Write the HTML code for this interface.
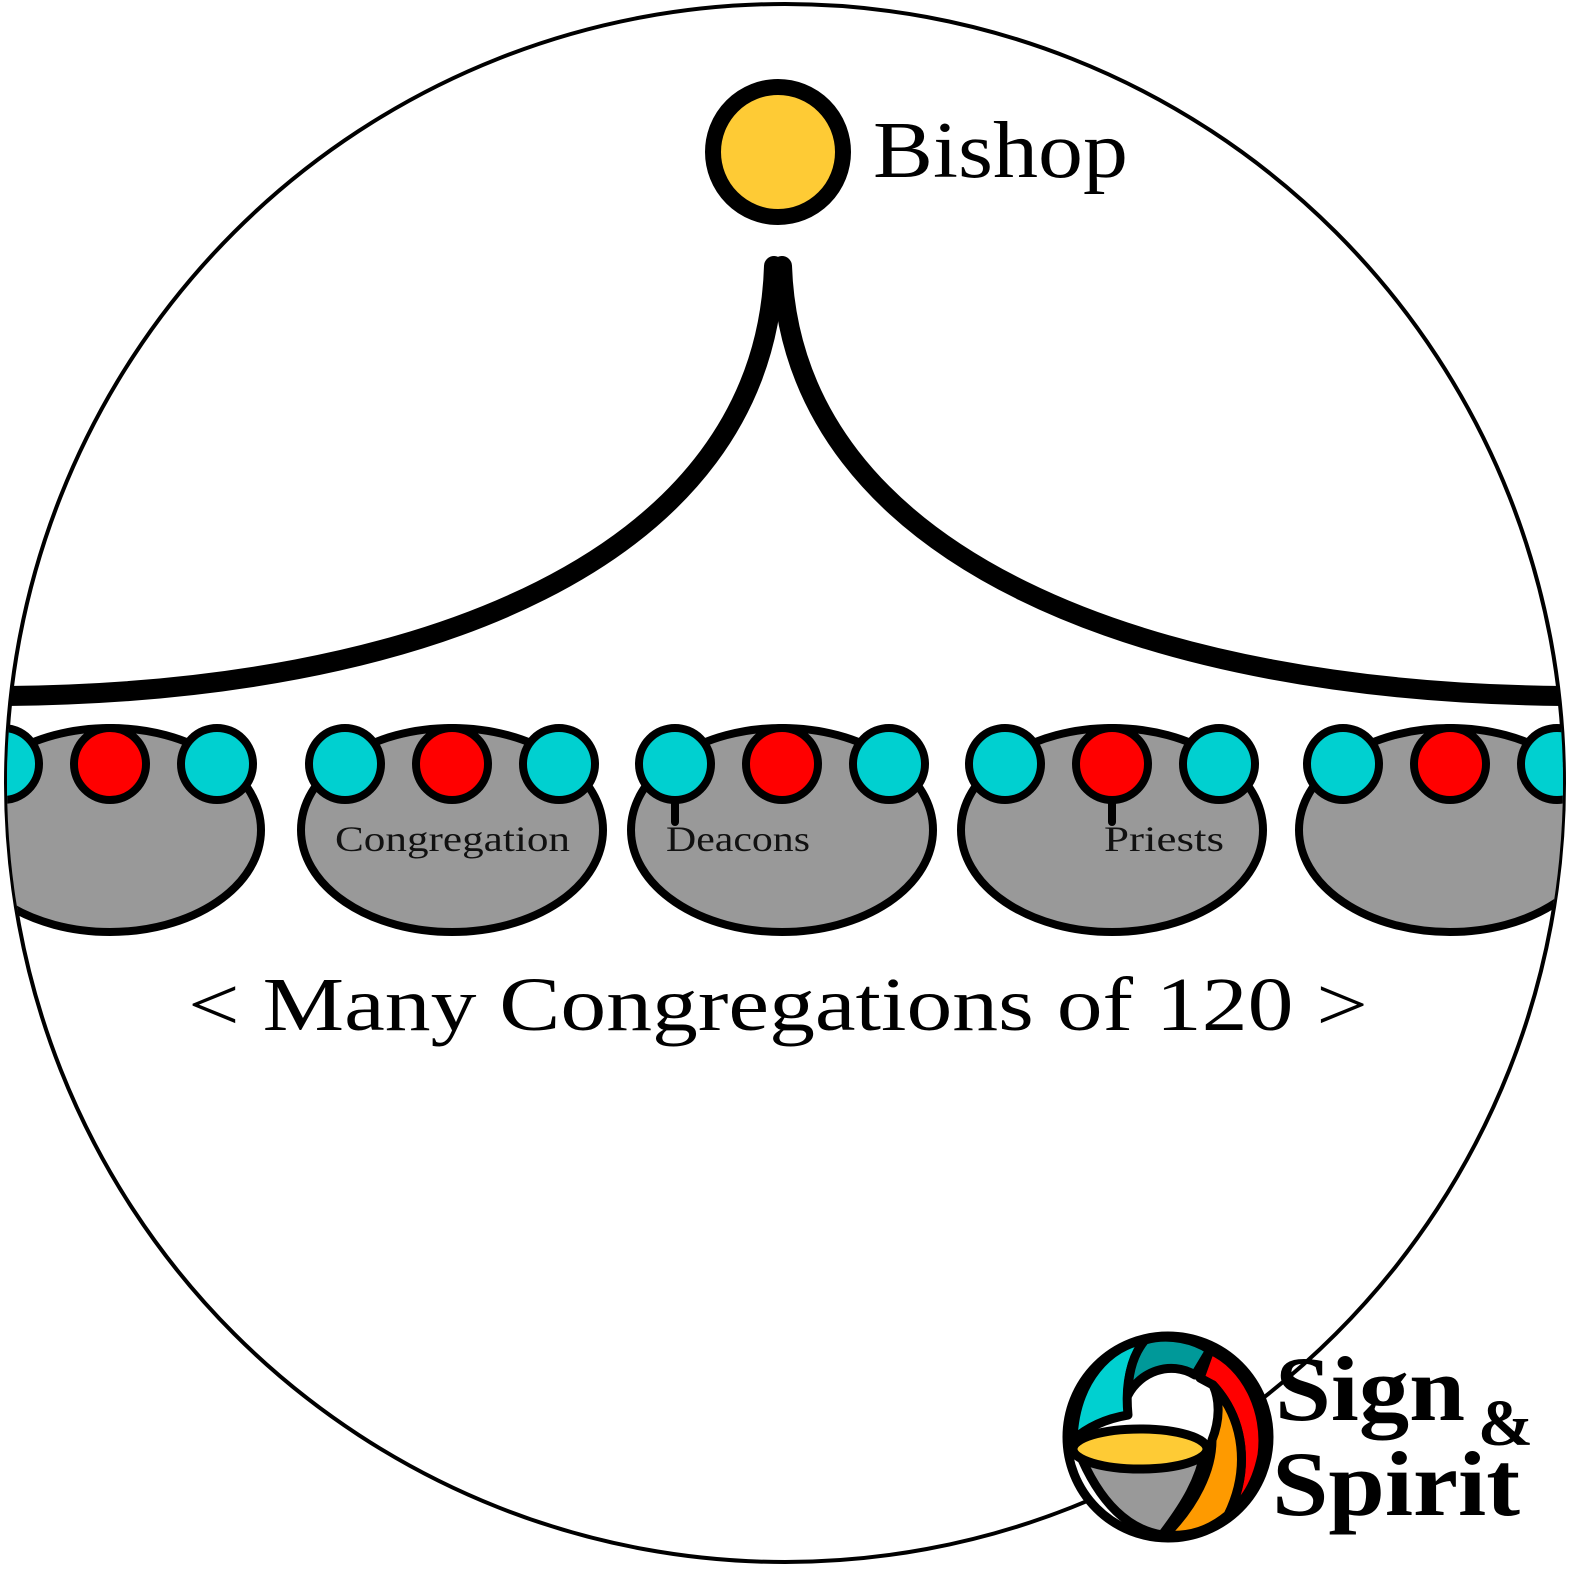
<!DOCTYPE html>
<html><head><meta charset="utf-8"><style>
html,body{margin:0;padding:0;background:#fff;}
svg{display:block}
text{font-family:"Liberation Serif","DejaVu Serif",serif;}
</style></head><body>
<svg width="1570" height="1570" viewBox="0 0 1570 1570" xmlns="http://www.w3.org/2000/svg">
<defs><clipPath id="c"><circle cx="785" cy="783" r="778"/></clipPath></defs>
<circle cx="785" cy="783" r="779" fill="#fff" stroke="#000" stroke-width="4"/>
<g clip-path="url(#c)">
<path d="M774,266 C765,560 420,694 0,696" fill="none" stroke="#000" stroke-width="20" stroke-linecap="round"/>
<path d="M782,266 C792,560 1150,694 1570,696" fill="none" stroke="#000" stroke-width="20" stroke-linecap="round"/>
<g stroke="#000" stroke-width="8">
<g id="g1" transform="translate(110,0)">
<ellipse cx="0" cy="830" rx="151" ry="102" fill="#999"/>
<circle cx="-107" cy="764" r="36" fill="#00d0d0"/>
<circle cx="0" cy="764" r="36" fill="#f00"/>
<circle cx="107" cy="764" r="36" fill="#00d0d0"/>
</g>
<use href="#g1" transform="translate(342,0)"/>
<use href="#g1" transform="translate(672,0)"/>
<use href="#g1" transform="translate(1002,0)"/>
<use href="#g1" transform="translate(1340,0)"/>
<line x1="675" y1="800" x2="675" y2="822" stroke-linecap="round"/>
<line x1="1112" y1="800" x2="1112" y2="822" stroke-linecap="round"/>
</g>
</g>
<text x="335" y="851" font-size="36" fill="#111" textLength="235" lengthAdjust="spacingAndGlyphs">Congregation</text>
<text x="666" y="851" font-size="36" fill="#111" textLength="144" lengthAdjust="spacingAndGlyphs">Deacons</text>
<text x="1104" y="851" font-size="36" fill="#111" textLength="120" lengthAdjust="spacingAndGlyphs">Priests</text>
<circle cx="778" cy="152" r="65" fill="#fecb35" stroke="#000" stroke-width="16"/>
<text x="873" y="177" font-size="80" fill="#000" textLength="255" lengthAdjust="spacingAndGlyphs">Bishop</text>
<text x="188" y="1030" font-size="76" fill="#000" textLength="1180" lengthAdjust="spacingAndGlyphs">&lt; Many Congregations of 120 &gt;</text>
<g stroke="#000" stroke-width="9" stroke-linejoin="round">
<circle cx="1168" cy="1437" r="101" fill="#fff"/>
<path d="M1073,1440 C1075,1380 1110,1345 1145,1340 C1130,1360 1125,1385 1128,1415 C1110,1418 1090,1425 1073,1440Z" fill="#00d0d0"/>
<path d="M1145,1340 C1170,1333 1195,1340 1210,1350 L1195,1375 C1170,1360 1140,1372 1128,1395 C1128,1370 1135,1352 1145,1340Z" fill="#009999"/>
<path d="M1210,1350 C1245,1365 1268,1410 1262,1455 C1255,1490 1240,1505 1228,1515 C1250,1470 1245,1420 1213,1385 L1200,1378Z" fill="#f00"/>
<path d="M1213,1385 C1245,1420 1250,1470 1228,1515 C1210,1530 1190,1537 1165,1535 C1195,1505 1212,1470 1212,1440 C1220,1420 1220,1400 1213,1385Z" fill="#fe9a00"/>
<path d="M1078,1450 C1100,1505 1130,1530 1162,1535 C1185,1505 1200,1480 1205,1450 C1160,1470 1110,1468 1078,1450Z" fill="#999"/>
<ellipse cx="1140" cy="1449" rx="67" ry="20" fill="#fecb35"/>
</g>
<text x="1275" y="1420" font-size="92" font-weight="bold" fill="#000" textLength="190" lengthAdjust="spacingAndGlyphs">Sign</text>
<text x="1478" y="1445" font-size="66" font-weight="bold" fill="#000">&amp;</text>
<text x="1272" y="1515" font-size="92" font-weight="bold" fill="#000" textLength="248" lengthAdjust="spacingAndGlyphs">Spirit</text>
</svg>
</body></html>
